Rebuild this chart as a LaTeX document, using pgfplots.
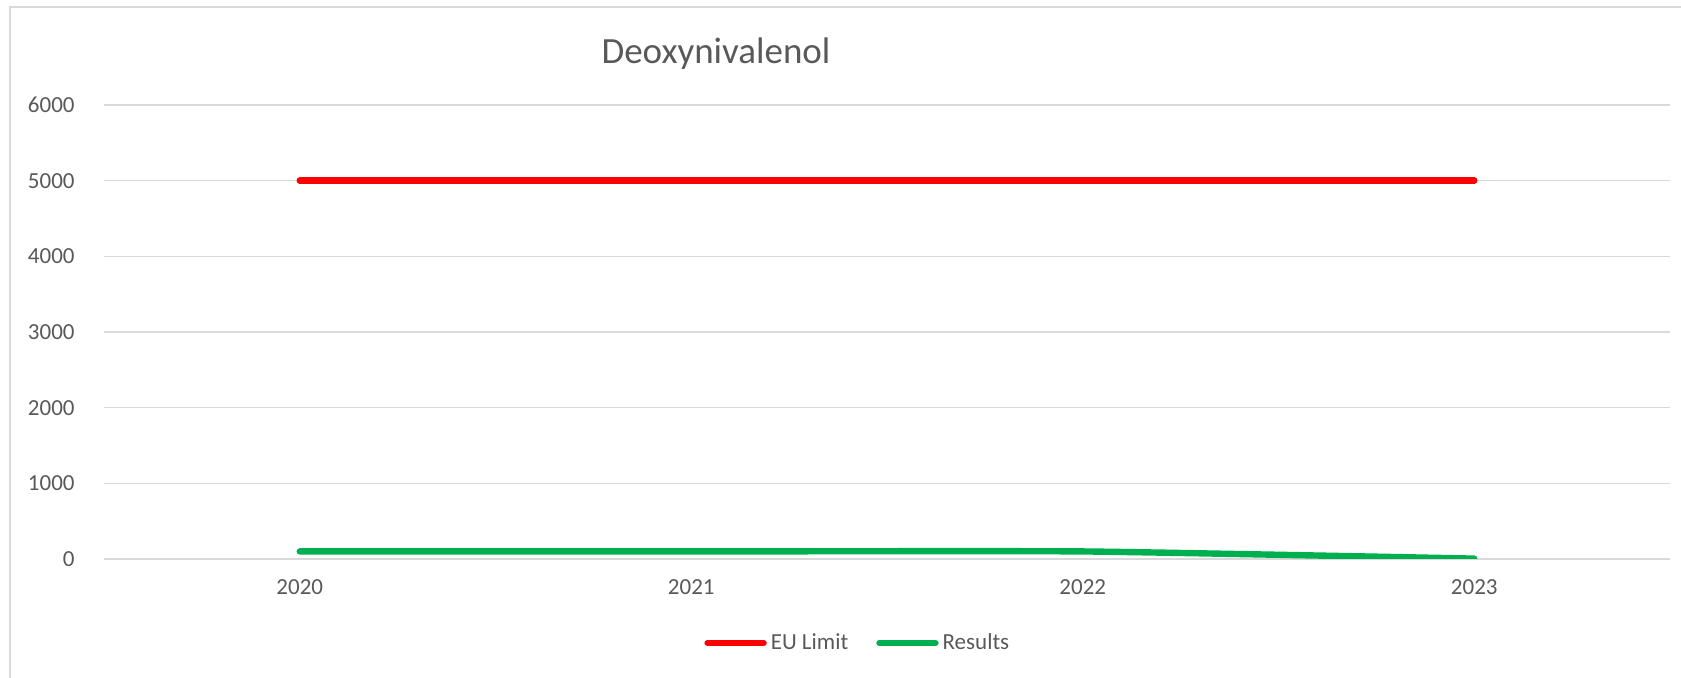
\documentclass[border=0pt]{standalone}
\usepackage{pgfplots}
\pgfplotsset{compat=1.18}
\usepackage{fontspec}
\setmainfont{Carlito}
\definecolor{txt}{HTML}{595959}
\definecolor{grid}{HTML}{D9D9D9}
\definecolor{eured}{HTML}{FF0000}
\definecolor{resgreen}{HTML}{00B050}
\begin{document}
\begin{tikzpicture}
\useasboundingbox (0,0) rectangle (840.5bp,339bp);
\draw[color=grid, line width=1bp] (5bp,-20bp) -- (5bp,335.5bp) -- (860bp,335.5bp);
\node[font=\fontsize{18.5bp}{21bp}\selectfont, text=txt] at (358bp,312bp) {Deoxynivalenol};
\begin{axis}[
  at={(52bp,59.5bp)}, anchor=south west,
  scale only axis, width=783bp, height=227bp,
  xmin=-0.5, xmax=3.5, ymin=0, ymax=6000,
  xtick={0,1,2,3}, xticklabels={2020,2021,2022,2023},
  ytick={0,1000,2000,3000,4000,5000,6000},
  scaled y ticks=false,
  /pgf/number format/1000 sep={},
  /pgf/number format/assume math mode=true,
  ymajorgrids, grid style={color=grid, line width=0.75bp},
  axis line style={draw=none},
  major tick length=0pt,
  tick label style={font=\fontsize{11.5bp}{13bp}\selectfont, text=txt},
  yticklabel style={inner sep=0pt, xshift=-14.5bp},
  xticklabel style={inner sep=0pt, yshift=-10bp},
  legend style={at={(0.482,-0.185)}, anchor=center, draw=none, fill=none,
    legend columns=2, font=\fontsize{11.5bp}{13bp}\selectfont, text=txt,
    /tikz/every even column/.append style={column sep=12bp},
    inner sep=0pt},
  legend cell align=left,
  legend image code/.code={\draw[#1, line cap=round] (0bp,0bp) -- (28bp,0bp);},
]
\addplot[color=eured, line width=3.2bp, line cap=round, smooth, tension=0.3] coordinates {(0,5000) (1,5000) (2,5000) (3,5000)};
\addlegendentry{EU Limit}
\addplot[color=resgreen, line width=3.2bp, line cap=round, smooth, tension=0.3] coordinates {(0,100) (1,100) (2,100) (3,5)};
\addlegendentry{Results}
\end{axis}
\end{tikzpicture}
\end{document}
